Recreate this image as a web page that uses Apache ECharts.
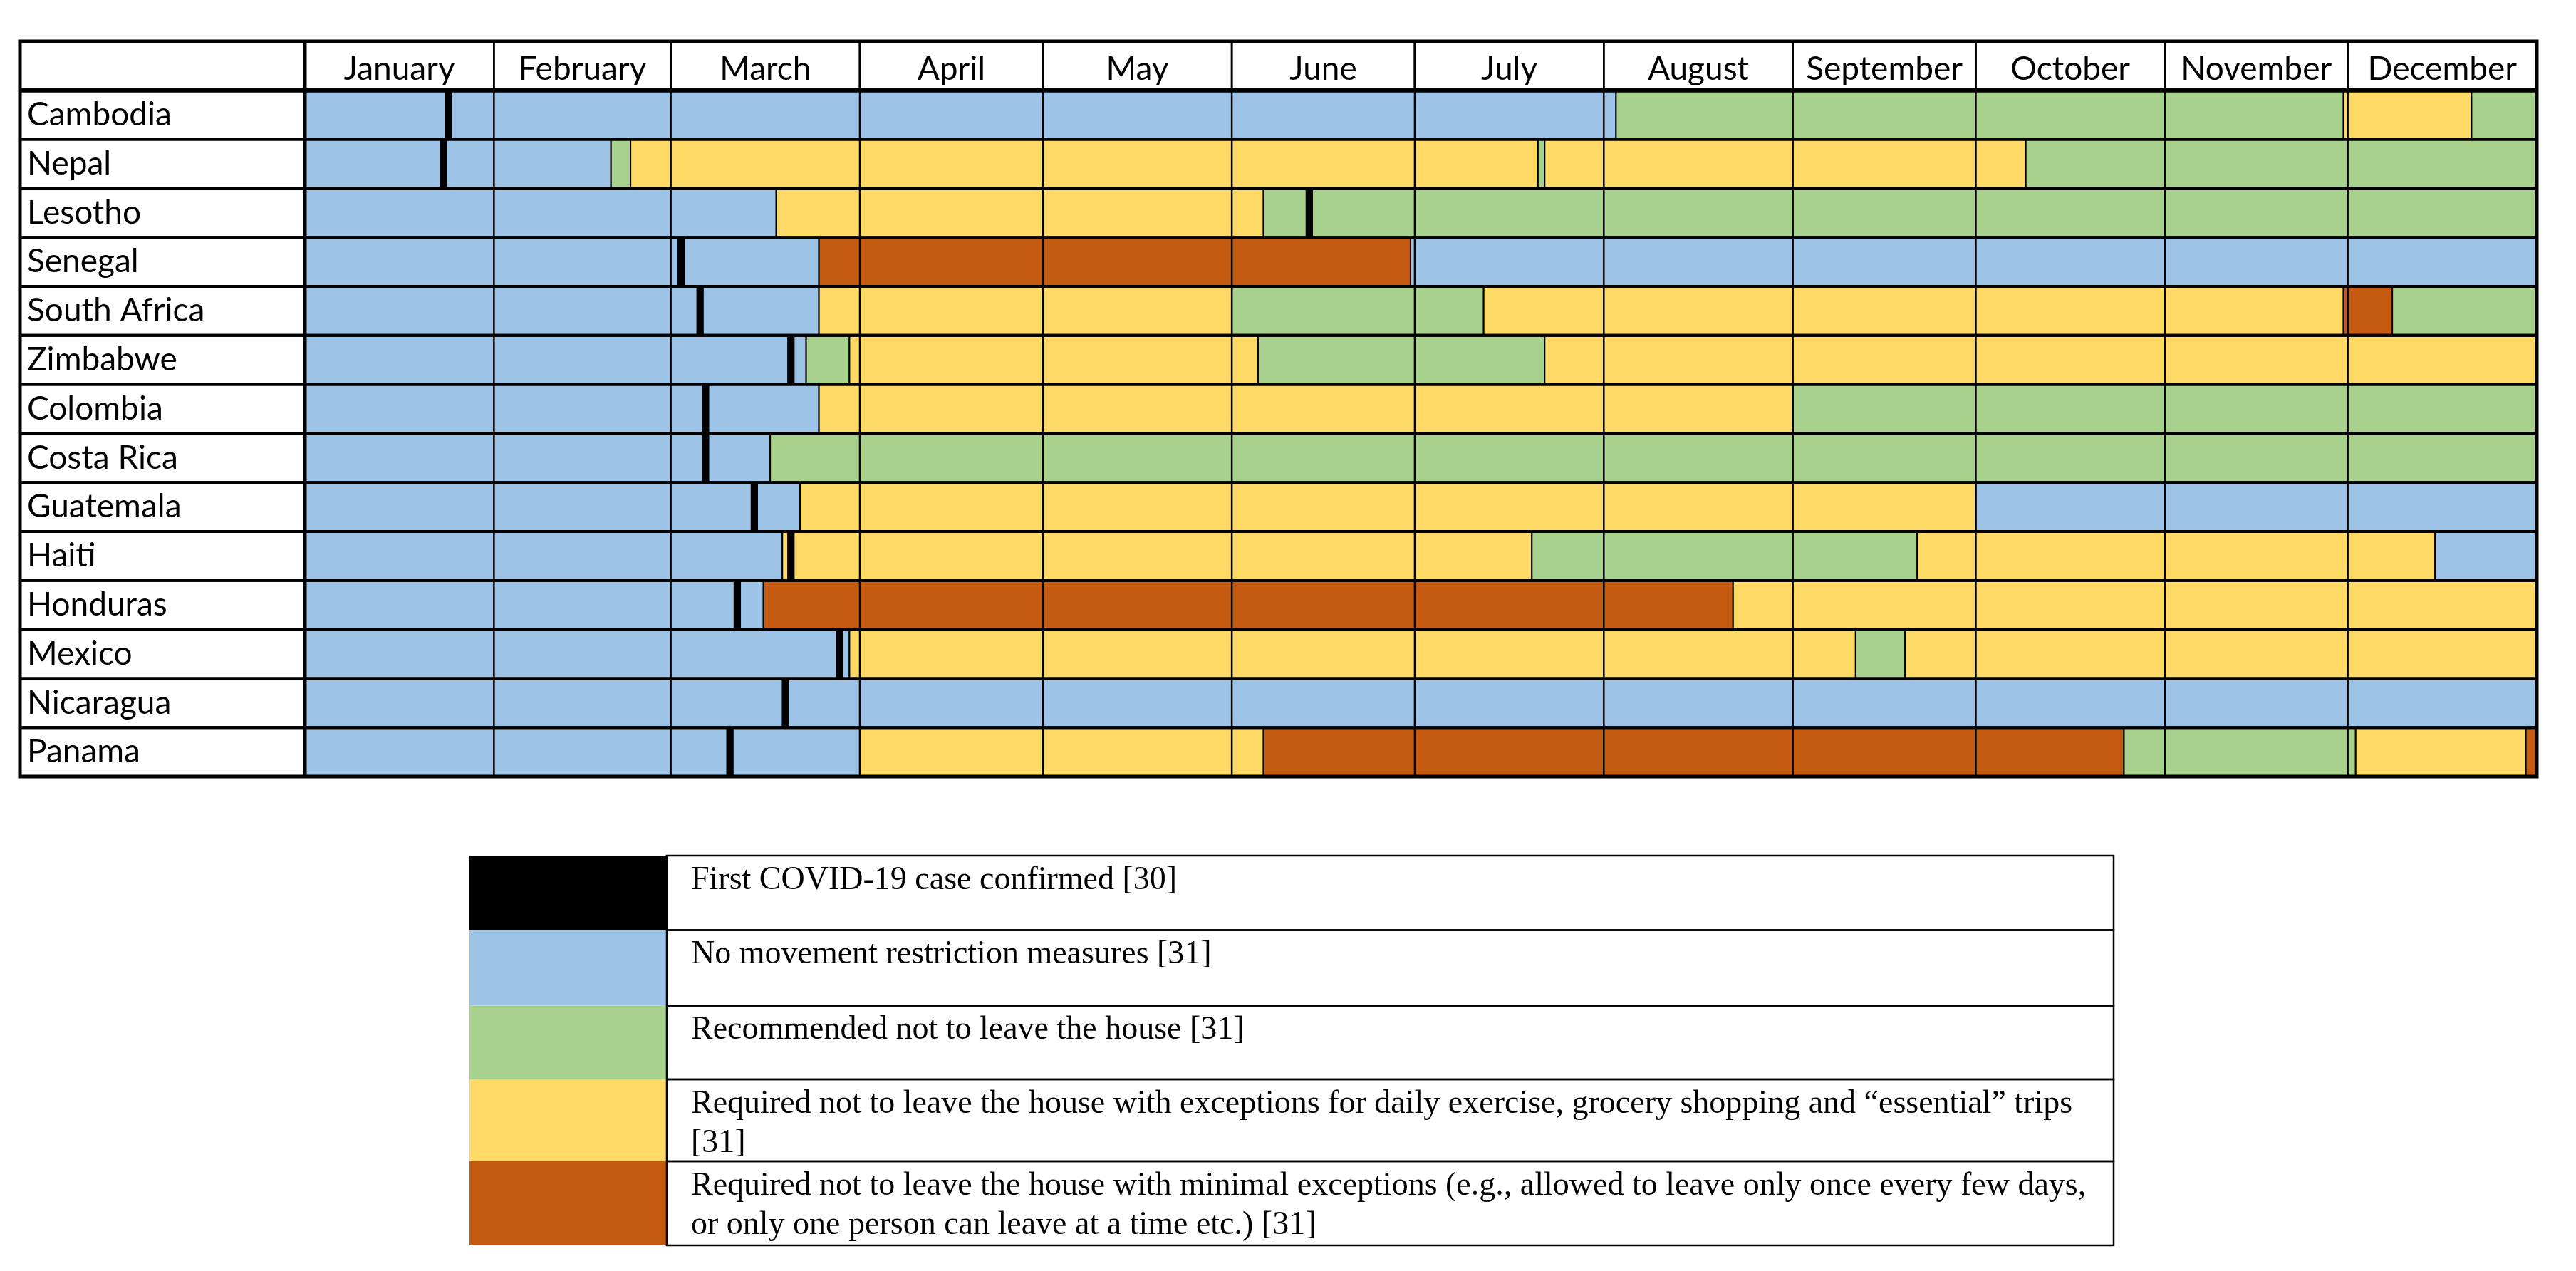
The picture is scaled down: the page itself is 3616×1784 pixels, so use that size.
<!DOCTYPE html>
<html>
<head>
<meta charset="utf-8">
<script src="https://cdn.jsdelivr.net/npm/echarts@6/dist/echarts.min.js"></script>
<style>
  html, body { margin: 0; padding: 0; background: #fff; }
  #chart { width: 3616px; height: 1784px; }
</style>
</head>
<body>
<div id="chart"></div>
<script>
// rows of the table, top to bottom
const countries = ['Cambodia', 'Nepal', 'Lesotho', 'Senegal', 'South Africa', 'Zimbabwe', 'Colombia',
  'Costa Rica', 'Guatemala', 'Haiti', 'Honduras', 'Mexico', 'Nicaragua', 'Panama'];
const months = ['January', 'February', 'March', 'April', 'May', 'June', 'July', 'August',
  'September', 'October', 'November', 'December'];
const monthDays = [31, 29, 31, 30, 31, 30, 31, 31, 30, 31, 30, 31]; // 2020

// 0 no restriction, 1 recommended, 2 required w/ exceptions, 3 minimal exceptions
const statusColors = ['#9DC3E6', '#A9D18E', '#FFD966', '#C55A11'];
const legendColors = ['#000000', '#9DC3E6', '#A9D18E', '#FFD966', '#C55A11'];
const legendLabels = [
  'First COVID-19 case confirmed [30]',
  'No movement restriction measures [31]',
  'Recommended not to leave the house [31]',
  'Required not to leave the house with exceptions for daily exercise, grocery shopping and \u201cessential\u201d trips\n[31]',
  'Required not to leave the house with minimal exceptions (e.g., allowed to leave only once every few days,\nor only one person can leave at a time etc.) [31]'
];

// day of year (Jan 1 = 0) of the first confirmed case
const firstCaseDay = [23.5, 22.7, 164.7, 61.7, 64.8, 79.7, 65.7, 65.7, 73.7, 79.7, 70.9, 87.7, 78.8, 69.7];

// [startDay, endDay, status]
const cambodia = [[0, 215, 0], [215, 334.3, 1], [334.3, 355.3, 2], [355.3, 366, 1]];
const nepal = [[0, 50.2, 0], [50.2, 53.4, 1], [53.4, 202.2, 2], [202.2, 203.3, 1], [203.3, 282.2, 2], [282.2, 366, 1]];
const lesotho = [[0, 77.3, 0], [77.3, 157.2, 2], [157.2, 366, 1]];
const senegal = [[0, 84.3, 0], [84.3, 181.3, 3], [181.3, 366, 0]];
const southAfrica = [[0, 84.3, 0], [84.3, 152, 2], [152, 193.3, 1], [193.3, 334.3, 2], [334.3, 342.3, 3], [342.3, 366, 1]];
const zimbabwe = [[0, 82.2, 0], [82.2, 89.3, 1], [89.3, 156.3, 2], [156.3, 203.3, 1], [203.3, 366, 2]];
const colombia = [[0, 84.3, 0], [84.3, 244, 2], [244, 366, 1]];
const costaRica = [[0, 76.3, 0], [76.3, 366, 1]];
const guatemala = [[0, 81.2, 0], [81.2, 274, 2], [274, 366, 0]];
const haiti = [[0, 78.3, 0], [78.3, 201.2, 2], [201.2, 264.4, 1], [264.4, 349.3, 2], [349.3, 366, 0]];
const honduras = [[0, 75.2, 0], [75.2, 234.2, 3], [234.2, 366, 2]];
const mexico = [[0, 89.3, 0], [89.3, 254.3, 2], [254.3, 262.4, 1], [262.4, 366, 2]];
const nicaragua = [[0, 366, 0]];
const panama = [[0, 91, 0], [91, 157.2, 2], [157.2, 298.3, 3], [298.3, 336.3, 1], [336.3, 364.2, 2], [364.2, 366, 3]];

const phases = [cambodia, nepal, lesotho, senegal, southAfrica, zimbabwe, colombia,
  costaRica, guatemala, haiti, honduras, mexico, nicaragua, panama];

const LABEL_W = 400;
const FONT = 'Lato, "Open Sans", sans-serif';

// row 0 of the category axis is the month header
const rowNames = [''].concat(countries);

const phaseData = [];
phases.forEach((list, i) => {
  list.forEach(p => phaseData.push([p[0], p[1], i + 1, p[2]]));
});
const caseData = firstCaseDay.map((d, i) => [d, i + 1]);

const monthData = [];
let acc = 0;
monthDays.forEach((n, i) => {
  monthData.push([acc, acc + n, i]);
  acc += n;
});

function renderPhase(params, api) {
  const row = api.value(2);
  const p0 = api.coord([api.value(0), row]);
  const p1 = api.coord([api.value(1), row]);
  const h = api.size([0, 1])[1];
  return {
    type: 'rect',
    shape: { x: p0[0], y: p0[1] - h / 2, width: p1[0] - p0[0], height: h },
    style: { fill: statusColors[api.value(3)], stroke: '#000', lineWidth: 2 }
  };
}

function renderCase(params, api) {
  const c = api.coord([api.value(0), api.value(1)]);
  const w = api.size([1.2, 1]);
  return {
    type: 'rect',
    shape: { x: c[0] - w[0] / 2, y: c[1] - w[1] / 2, width: w[0], height: w[1] },
    style: { fill: '#000' }
  };
}

function renderMonth(params, api) {
  const cs = params.coordSys;
  const p0 = api.coord([api.value(0), 0]);
  const p1 = api.coord([api.value(1), 0]);
  const h = api.size([0, 1])[1];
  return {
    type: 'group',
    children: [
      {
        type: 'rect',
        shape: { x: p0[0], y: p0[1] - h / 2, width: p1[0] - p0[0], height: h },
        style: { fill: '#fff', stroke: '#000', lineWidth: 2.5 }
      },
      {
        type: 'text',
        style: {
          text: months[api.value(2)], x: (p0[0] + p1[0]) / 2, y: p0[1] + 5,
          align: 'center', verticalAlign: 'middle', fontSize: 46, fontFamily: FONT, fill: '#000'
        }
      },
      {
        type: 'line',
        shape: { x1: p0[0], y1: cs.y, x2: p0[0], y2: cs.y + cs.height },
        style: { stroke: '#000', lineWidth: 2.5 }
      }
    ]
  };
}

function renderFrame(params, api) {
  const cs = params.coordSys;
  const row = api.value(1);
  const c = api.coord([0, row]);
  const h = api.size([0, 1])[1];
  const children = [{
    type: 'rect',
    shape: { x: cs.x - LABEL_W, y: c[1] - h / 2, width: cs.width + LABEL_W, height: h },
    style: { fill: 'none', stroke: '#000', lineWidth: 4 }
  }];
  if (row === 0) {
    children.push({
      type: 'line',
      shape: { x1: cs.x, y1: cs.y, x2: cs.x, y2: cs.y + cs.height },
      style: { stroke: '#000', lineWidth: 5 }
    }, {
      type: 'line',
      shape: { x1: cs.x - LABEL_W, y1: c[1] + h / 2, x2: cs.x + cs.width, y2: c[1] + h / 2 },
      style: { stroke: '#000', lineWidth: 6 }
    }, {
      type: 'rect',
      shape: { x: cs.x - LABEL_W, y: cs.y, width: cs.width + LABEL_W, height: cs.height },
      style: { fill: 'none', stroke: '#000', lineWidth: 5 }
    });
  }
  return { type: 'group', children: children };
}

// legend table under the chart
const LEG_X = 659, SW_W = 277, TXT_W = 2031, LEG_TOP = 1201;
const legendRowH = [104.5, 106, 103.5, 115, 118];
const legendGraphics = [];
let ly = LEG_TOP;
legendLabels.forEach((txt, i) => {
  const h = legendRowH[i];
  legendGraphics.push({
    type: 'rect',
    shape: { x: LEG_X, y: ly, width: SW_W, height: h },
    style: { fill: legendColors[i] }
  }, {
    type: 'rect',
    shape: { x: LEG_X + SW_W, y: ly, width: TXT_W, height: h },
    style: { fill: 'none', stroke: '#000', lineWidth: 2.5 }
  }, {
    type: 'text',
    x: LEG_X + SW_W + 34,
    y: ly + 7,
    style: {
      text: txt, fontSize: 46, lineHeight: 55, fontFamily: '"Liberation Serif", "DejaVu Serif", serif',
      fill: '#000', verticalAlign: 'top'
    }
  });
  ly += h;
});

const chart = echarts.init(document.getElementById('chart'));
chart.setOption({
  animation: false,
  backgroundColor: '#fff',
  grid: { left: 428, right: 55, top: 58, bottom: 694 },
  xAxis: { type: 'value', min: 0, max: 366, show: false },
  yAxis: {
    type: 'category',
    inverse: true,
    data: rowNames,
    axisLine: { show: false },
    axisTick: { show: false },
    splitLine: { show: false },
    axisLabel: {
      align: 'left', margin: 390, fontSize: 46, fontFamily: FONT, color: '#000',
      padding: [32, 0, 0, 0]
    }
  },
  graphic: legendGraphics,
  series: [
    {
      type: 'custom', name: 'phases', renderItem: renderPhase, data: phaseData,
      encode: { x: [0, 1], y: 2 }, z: 2
    },
    {
      type: 'custom', name: 'first case', renderItem: renderCase, data: caseData,
      encode: { x: 0, y: 1 }, z: 3
    },
    {
      type: 'custom', name: 'months', renderItem: renderMonth, data: monthData,
      encode: { x: [0, 1] }, z: 4, clip: false
    },
    {
      type: 'custom', name: 'frame', renderItem: renderFrame,
      data: rowNames.map((n, i) => [0, i]), encode: { x: 0, y: 1 }, z: 5, clip: false
    }
  ]
});
</script>
</body>
</html>
